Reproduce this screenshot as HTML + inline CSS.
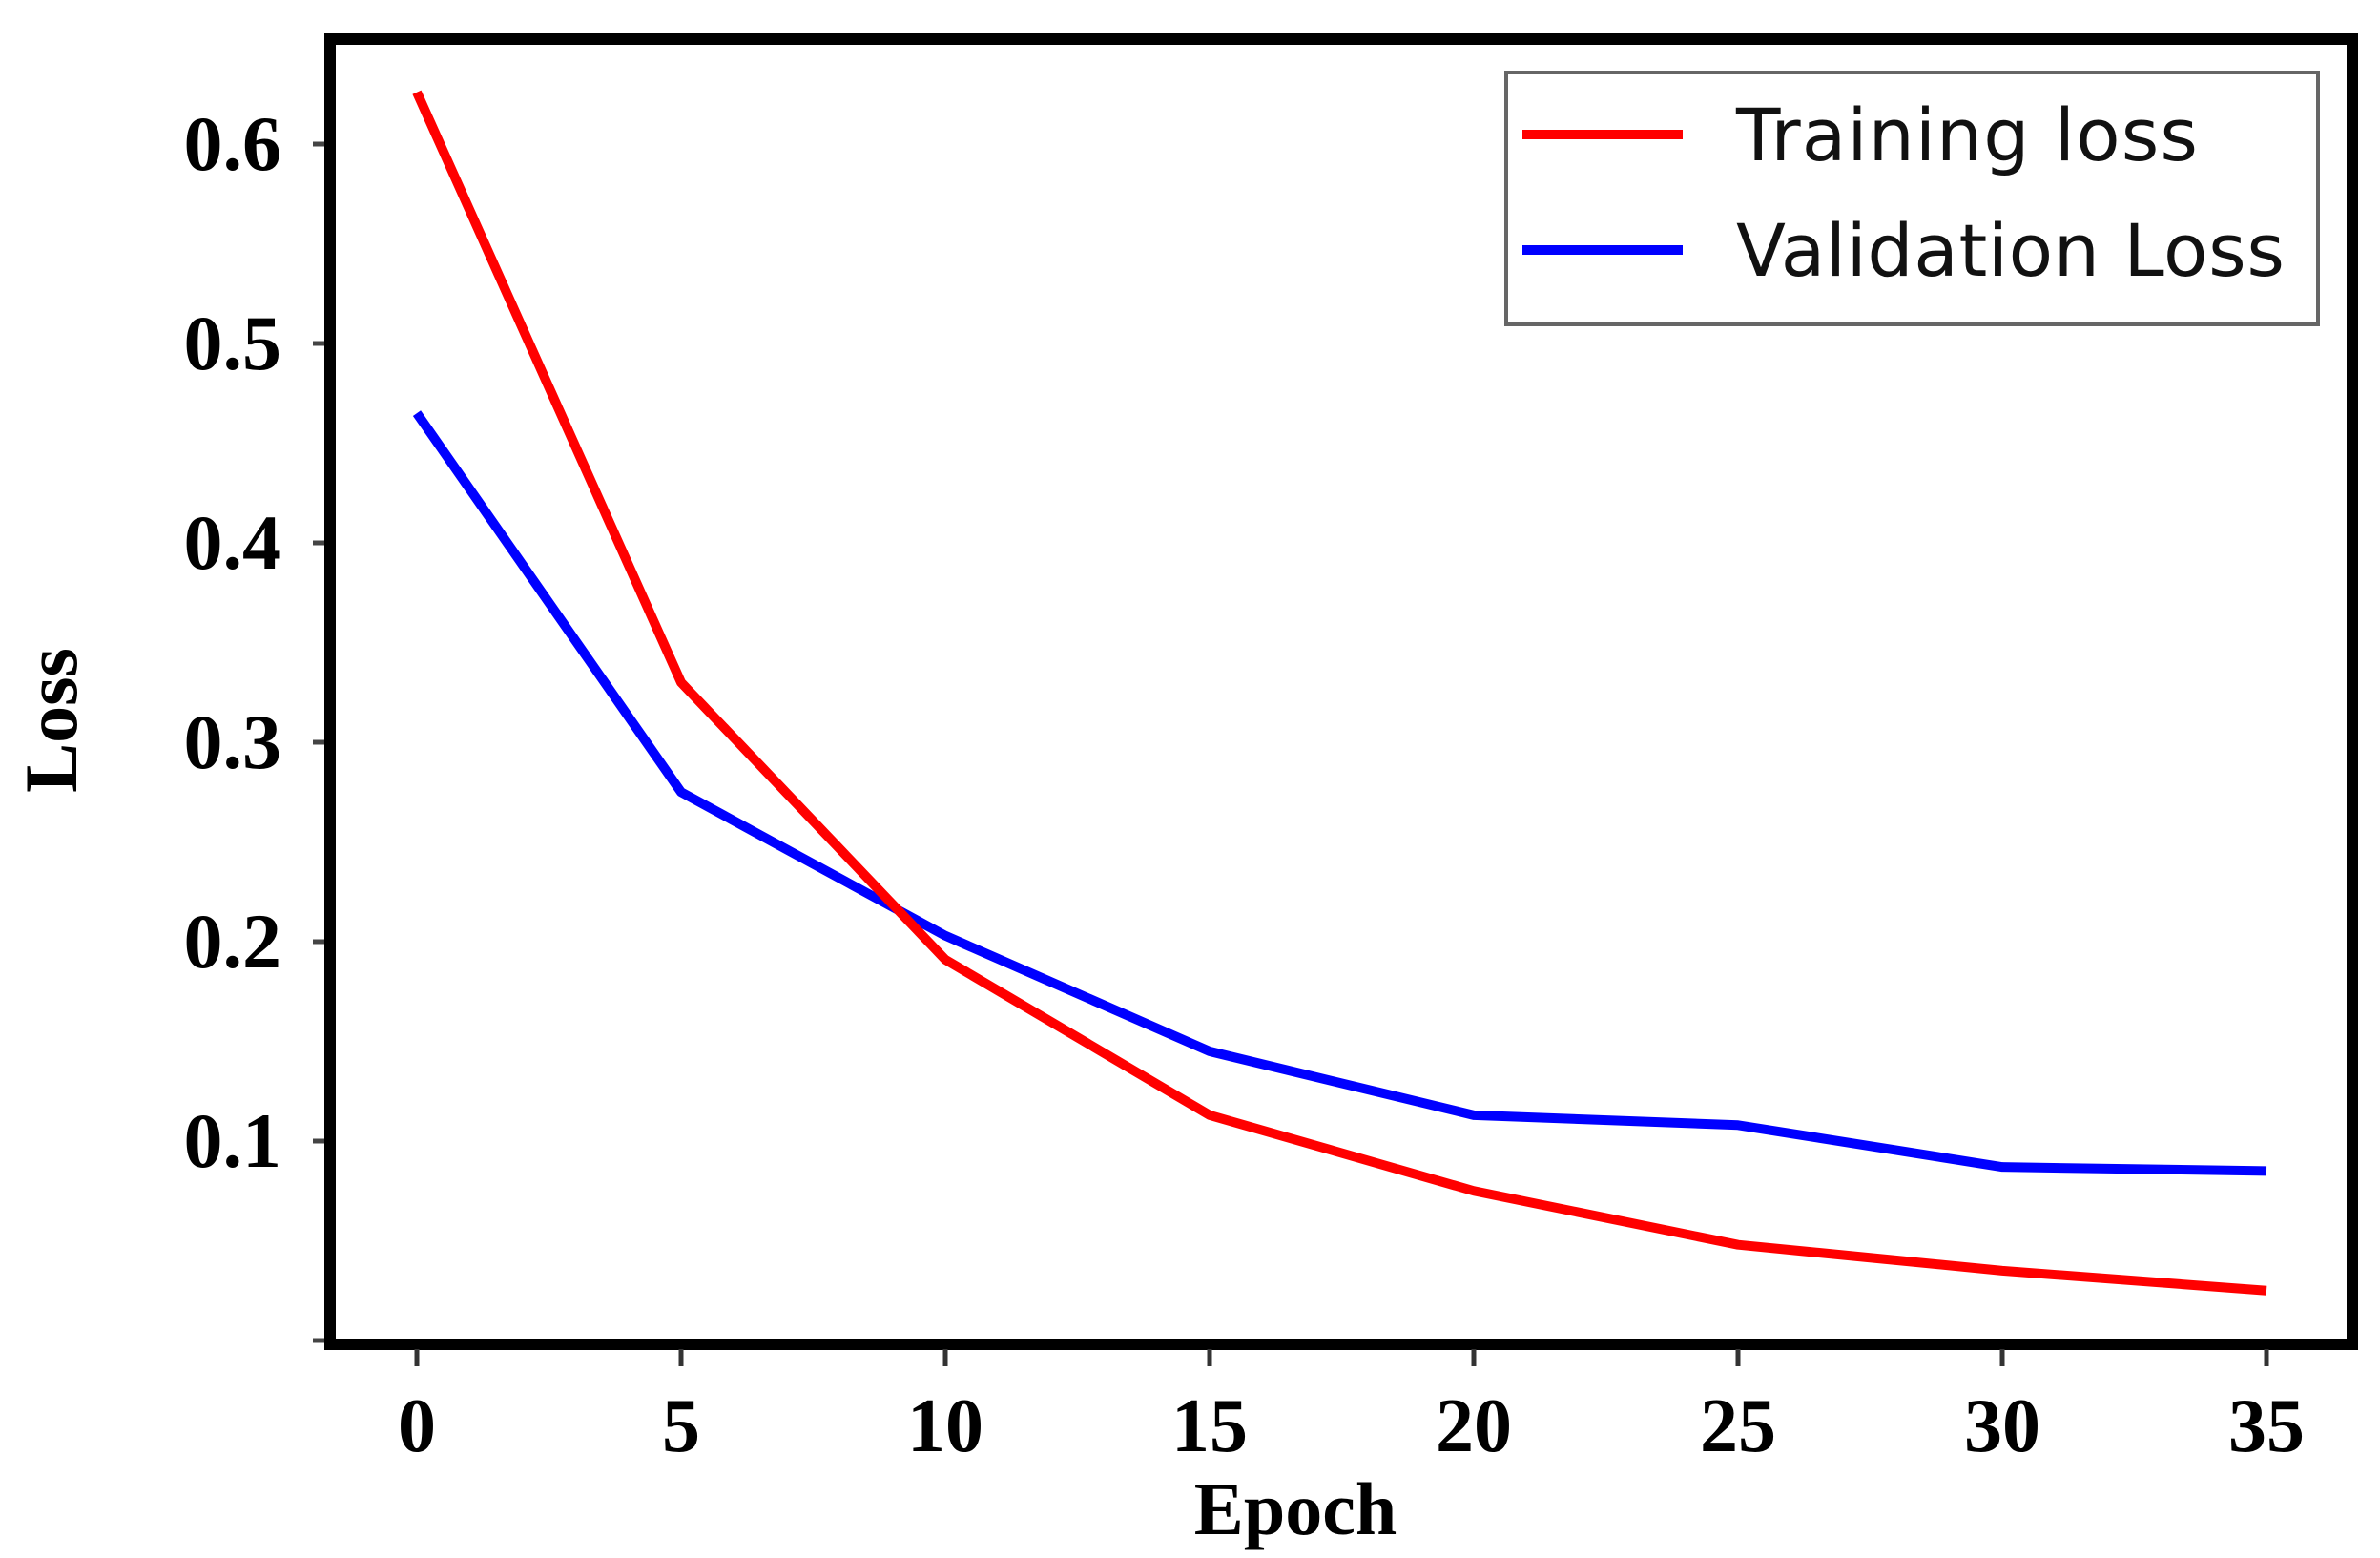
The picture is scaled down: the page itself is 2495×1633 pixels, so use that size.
<!DOCTYPE html>
<html><head><meta charset="utf-8"><style>html,body{margin:0;padding:0;background:#fff;}svg{display:block;}</style></head>
<body>
<svg id="chart" width="2495" height="1633" viewBox="0 0 2495 1633" xmlns="http://www.w3.org/2000/svg">
<rect x="346" y="41" width="2120" height="1368" fill="#fff" stroke="#000" stroke-width="12"/>
<g id="ticks"></g>
<g id="series"></g>
<text x="1358" y="1608" font-family="Liberation Serif, serif" font-weight="bold" font-size="78" text-anchor="middle">Epoch</text>
<text x="0" y="0" transform="translate(80,755) rotate(-90)" font-family="Liberation Serif, serif" font-weight="bold" font-size="78" text-anchor="middle">Loss</text>
<g>
<rect x="1579" y="76" width="851" height="264" fill="#fff" stroke="#666" stroke-width="4"/>
<line x1="1596" y1="141" x2="1764" y2="141" stroke="#ff0000" stroke-width="10"/>
<text x="1820" y="168" font-family="DejaVu Sans, sans-serif" font-size="76" fill="#111" textLength="484">Training loss</text>
<line x1="1596" y1="262" x2="1764" y2="262" stroke="#0000ff" stroke-width="10"/>
<text x="1820" y="289" font-family="DejaVu Sans, sans-serif" font-size="76" fill="#111" textLength="575">Validation Loss</text>
</g>
</svg>
<script>
const epochs = [0, 5, 10, 15, 20, 25, 30, 35];
const trainingLoss = [0.626, 0.330, 0.191, 0.113, 0.075, 0.048, 0.035, 0.025];
const validationLoss = [0.465, 0.275, 0.203, 0.145, 0.113, 0.108, 0.087, 0.085];
const xTicks = [0, 5, 10, 15, 20, 25, 30, 35];
const yTicks = [0.1, 0.2, 0.3, 0.4, 0.5, 0.6];

const NS = 'http://www.w3.org/2000/svg';
function xs(e){ return 437 + e * 55.4; }
function ys(v){ return 1405 - v * 2090; }

const ticks = document.getElementById('ticks');
xTicks.forEach(function(t){
  const l = document.createElementNS(NS, 'line');
  l.setAttribute('x1', xs(t)); l.setAttribute('x2', xs(t));
  l.setAttribute('y1', 1414); l.setAttribute('y2', 1432);
  l.setAttribute('stroke', '#333'); l.setAttribute('stroke-width', 5);
  
  
  ticks.appendChild(l);
  const tx = document.createElementNS(NS, 'text');
  tx.setAttribute('x', xs(t)); tx.setAttribute('y', 1521);
  tx.setAttribute('text-anchor', 'middle');
  tx.setAttribute('font-family', 'Liberation Serif, serif');
  tx.setAttribute('font-weight', 'bold'); tx.setAttribute('font-size', 80);
  tx.textContent = String(t);
  
  
  ticks.appendChild(tx);
});
[0].concat(yTicks).forEach(function(t){
  const l = document.createElementNS(NS, 'line');
  l.setAttribute('x1', 328); l.setAttribute('x2', 340);
  l.setAttribute('y1', ys(t)); l.setAttribute('y2', ys(t));
  l.setAttribute('stroke', '#444'); l.setAttribute('stroke-width', 5);
  
  
  ticks.appendChild(l);
});
yTicks.forEach(function(t){
  const tx = document.createElementNS(NS, 'text');
  tx.setAttribute('x', 295); tx.setAttribute('y', ys(t) + 27);
  tx.setAttribute('text-anchor', 'end');
  tx.setAttribute('font-family', 'Liberation Serif, serif');
  tx.setAttribute('font-weight', 'bold'); tx.setAttribute('font-size', 82);
  tx.textContent = t.toFixed(1);
  
  
  ticks.appendChild(tx);
});

const series = document.getElementById('series');
function drawLine(vals, color, name){
  const p = document.createElementNS(NS, 'polyline');
  p.setAttribute('points', epochs.map(function(e, i){ return xs(e) + ',' + ys(vals[i]); }).join(' '));
  p.setAttribute('fill', 'none'); p.setAttribute('stroke', color);
  p.setAttribute('stroke-width', 10); p.setAttribute('stroke-linejoin', 'round');
  
  
  series.appendChild(p);
}
drawLine(validationLoss, '#0000ff', 'validation-loss-line');
drawLine(trainingLoss, '#ff0000', 'training-loss-line');
</script>
</body></html>
